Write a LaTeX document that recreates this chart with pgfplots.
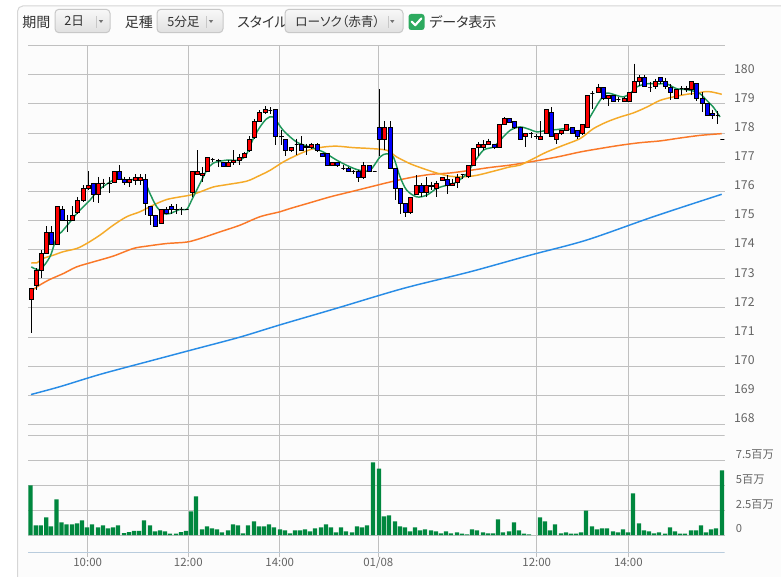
\documentclass[border=0pt]{standalone}
\usepackage{fontspec}
\setmainfont{Noto Sans CJK JP}
\newfontfamily\uifont[RawFeature=+palt]{Noto Sans CJK JP}
\usepackage{pgfplots}
\usepackage{pgfplotstable}
\pgfplotsset{compat=1.18}

\definecolor{gridc}{RGB}{192,192,192}
\definecolor{lbl}{RGB}{100,100,100}
\definecolor{txtdark}{RGB}{50,50,50}
\definecolor{candleup}{RGB}{255,0,0}
\definecolor{candledown}{RGB}{0,0,255}
\definecolor{magreen}{RGB}{30,150,90}
\definecolor{mayellow}{RGB}{245,170,40}
\definecolor{maorange}{RGB}{250,120,40}
\definecolor{mablue}{RGB}{40,140,230}
\definecolor{volgreen}{RGB}{0,135,62}
\definecolor{axisblue}{RGB}{185,204,221}
\definecolor{panelbg}{RGB}{252,252,252}
\definecolor{panelline}{RGB}{214,214,214}
\definecolor{btnline}{RGB}{200,200,200}
\definecolor{chkgreen}{RGB}{45,170,95}

% price axis: 292.5pt for 13.38 units
\def\ppu{21.861}
% candle: point sits at the close, body to the open, wick high-low
\pgfdeclareplotmark{candle}{%
  \pgfmathsetmacro\dHi{(\cHigh-\cClose)*\ppu}%
  \pgfmathsetmacro\dLo{(\cLow-\cClose)*\ppu}%
  \pgfmathsetmacro\dOp{(\cOpen-\cClose)*\ppu}%
  \pgfsetlinewidth{0.7pt}%
  \pgfsetstrokecolor{black}%
  \pgfpathmoveto{\pgfqpoint{0pt}{\dHi pt}}%
  \pgfpathlineto{\pgfqpoint{0pt}{\dLo pt}}%
  \pgfusepath{stroke}%
  \pgfmathparse{\cClose>=\cOpen}%
  \ifdim\pgfmathresult pt>0.5pt \pgfsetfillcolor{candleup}\else\pgfsetfillcolor{candledown}\fi
  \pgfsetlinewidth{0.6pt}%
  \pgfpathrectanglecorners{\pgfqpoint{-1.45pt}{0pt}}{\pgfqpoint{1.45pt}{\dOp pt}}%
  \pgfusepath{fill,stroke}%
}

% x = horizontal position on the chart, o h l c
\pgfplotstableread{
x o h l c
31.3 172.29 172.70 171.14 172.68
36.3 172.79 173.36 172.62 173.28
41.3 173.30 173.99 173.02 173.87
46.3 173.87 174.81 173.85 174.58
51.0 174.58 174.81 174.18 174.18
57.7 174.18 175.49 174.18 175.49
62.3 175.38 175.49 174.99 175.01
67.7 175.02 175.18 174.61 175.01
72.3 175.01 175.49 175.00 175.18
77.0 175.27 175.81 175.24 175.70
83.0 175.70 176.21 175.64 176.10
88.3 176.10 176.69 176.04 176.21
93.3 176.29 176.29 175.64 175.90
98.0 175.90 176.50 175.60 176.29
103.0 176.29 176.44 176.13 176.29
109.3 176.29 176.50 175.93 176.28
114.7 176.30 176.69 176.30 176.69
119.3 176.69 176.90 176.40 176.40
124.3 176.42 176.50 176.23 176.31
129.3 176.30 176.50 176.15 176.40
135.3 176.39 176.59 176.21 176.47
140.3 176.39 176.59 176.23 176.47
145.3 176.40 176.59 175.18 175.58
150.3 175.49 175.49 174.84 175.18
155.3 175.18 175.20 174.80 174.81
161.3 174.90 175.38 174.90 175.38
166.0 175.38 175.47 175.24 175.26
171.0 175.47 175.56 175.24 175.38
176.7 175.38 175.56 175.24 175.37
181.7 175.38 175.47 175.18 175.38
186.7 175.38 175.40 175.36 175.38
192.3 175.98 176.67 175.81 176.67
197.7 176.58 177.41 176.56 176.67
202.3 176.55 176.82 176.32 176.60
207.7 176.69 177.18 176.67 177.18
212.7 177.09 177.16 177.01 177.09
218.0 177.07 177.12 176.84 177.06
223.0 176.99 176.99 176.82 176.87
228.3 176.87 177.09 176.82 176.99
233.3 176.99 177.41 176.90 177.05
239.0 177.07 177.27 176.90 177.18
244.3 177.18 177.35 177.15 177.29
249.3 177.39 177.89 177.35 177.77
254.7 177.84 178.49 177.80 178.40
259.3 178.40 178.78 178.38 178.70
265.3 178.70 178.92 178.66 178.80
270.3 178.78 178.89 178.66 178.78
275.7 178.81 178.81 177.58 177.89
281.0 177.89 178.09 177.58 177.87
285.3 177.77 177.77 177.20 177.41
291.0 177.41 177.50 177.35 177.50
296.7 177.60 177.81 177.24 177.60
301.3 177.60 177.89 177.41 177.41
306.7 177.53 177.64 177.24 177.50
311.3 177.50 177.66 177.46 177.60
317.3 177.60 177.66 177.35 177.41
322.3 177.29 177.29 177.18 177.20
327.3 177.29 177.29 176.90 176.90
332.7 176.90 177.01 176.87 176.99
337.7 176.99 176.99 176.84 176.90
343.3 176.78 176.92 176.72 176.78
348.3 176.78 176.82 176.67 176.69
353.3 176.67 176.72 176.60 176.67
358.3 176.67 176.72 176.32 176.47
363.7 176.47 176.99 176.44 176.90
369.3 176.90 176.90 176.67 176.69
374.7 176.69 176.70 176.68 176.69
379.7 178.19 179.50 177.20 177.77
384.3 177.77 178.40 177.41 178.19
390.7 178.19 178.40 176.78 176.78
395.3 176.78 176.78 175.70 176.10
400.3 176.10 176.10 175.24 175.58
405.3 175.58 175.58 175.13 175.27
410.3 175.27 175.79 175.22 175.79
416.3 175.90 176.55 175.90 176.19
421.7 176.19 176.27 175.81 175.98
426.3 175.98 176.50 175.81 176.19
431.3 176.19 176.33 176.04 176.18
436.3 176.10 176.36 175.81 176.29
442.0 176.38 176.47 176.36 176.47
447.3 176.40 176.55 175.92 176.21
452.3 176.21 176.44 176.18 176.29
457.3 176.30 176.61 176.13 176.47
462.7 176.58 176.61 176.44 176.58
468.3 176.50 176.90 176.47 176.90
473.3 176.90 177.49 176.90 177.49
478.7 177.50 177.69 177.20 177.60
483.3 177.50 177.75 177.41 177.60
488.3 177.60 177.81 177.60 177.72
494.3 177.60 177.64 177.46 177.50
499.3 177.50 178.29 177.50 178.29
504.7 178.31 178.55 178.30 178.49
509.3 178.49 178.49 178.34 178.38
514.3 178.40 178.40 178.15 178.19
520.3 178.19 178.19 177.75 177.77
525.3 177.89 177.98 177.52 177.98
531.0 177.98 178.04 177.84 177.98
536.0 177.89 177.98 177.80 177.88
540.7 177.77 178.40 177.75 177.89
546.3 177.98 178.80 177.98 178.80
551.3 178.70 178.89 177.89 177.89
556.3 177.77 177.98 177.64 177.98
561.3 177.98 178.09 177.92 178.09
566.7 178.09 178.29 178.09 178.29
572.3 178.19 178.20 177.97 177.98
577.3 178.09 178.10 177.80 177.89
582.7 177.98 178.29 177.92 178.29
587.3 178.19 179.29 178.19 179.29
592.3 179.35 179.46 178.84 179.35
598.0 179.38 179.69 179.36 179.58
603.3 179.58 179.58 179.12 179.20
608.3 179.20 179.29 178.93 179.29
613.3 179.29 179.29 179.06 179.09
618.3 179.14 179.24 179.06 179.14
624.3 179.09 179.24 179.06 179.18
629.3 179.09 179.38 179.06 179.38
634.7 179.38 180.38 179.38 179.78
639.3 179.78 180.00 179.63 179.90
644.7 179.90 180.00 179.60 179.60
650.0 179.58 179.75 179.41 179.58
655.0 179.60 179.86 179.52 179.78
660.0 179.90 179.92 179.69 179.78
665.3 179.78 179.90 179.52 179.60
670.7 179.58 179.69 179.12 179.38
676.3 179.20 179.49 179.20 179.49
681.7 179.52 179.60 179.29 179.52
686.0 179.52 179.63 179.40 179.51
691.3 179.49 179.78 179.29 179.78
696.7 179.69 179.69 179.10 179.18
702.0 179.18 179.41 178.72 179.01
707.3 179.01 179.01 178.58 178.61
712.7 178.69 178.80 178.49 178.61
717.7 178.61 178.74 178.32 178.61
722.3 177.77 177.77 177.77 177.77
}\candles

% volume in millions
\pgfplotstableread{
x v
30.5 5.03
35.8 0.98
40.8 0.98
46.3 1.79
51.0 0.88
56.5 3.61
61.5 1.28
66.5 1.08
72.0 1.08
77.0 1.18
82.0 1.49
87.0 0.78
92.0 1.08
98.0 0.78
103.0 0.98
108.0 0.68
113.0 0.78
118.0 0.98
124.0 0.20
129.0 0.30
134.0 0.41
139.0 0.41
144.0 1.49
150.0 0.98
155.0 0.37
160.0 0.47
165.0 0.37
170.0 0.14
176.0 0.14
181.0 0.30
186.0 0.41
191.0 2.40
196.0 3.92
202.0 0.57
207.0 0.88
212.0 0.68
217.0 0.57
222.0 0.27
228.0 0.47
233.0 1.08
238.0 0.98
243.0 0.17
248.0 0.98
254.0 1.39
259.0 0.88
264.0 0.88
269.0 1.08
274.0 0.78
280.0 0.57
285.0 0.47
290.0 0.17
295.0 0.47
300.0 0.47
305.0 0.57
310.0 0.37
315.0 0.68
321.0 0.78
326.0 1.08
331.0 0.78
336.0 0.27
341.0 0.78
346.0 0.37
352.0 0.27
357.0 0.88
362.0 0.78
367.0 0.98
373.0 7.36
379.0 6.72
384.0 1.89
389.0 1.99
395.0 1.39
400.0 0.88
405.0 0.78
410.0 0.37
415.0 0.78
420.0 0.47
425.0 0.57
431.0 0.47
436.0 0.37
441.0 0.17
446.0 0.37
451.0 0.17
457.0 0.27
462.0 0.14
467.0 0.07
472.0 0.57
477.0 0.47
483.0 0.27
488.0 0.17
493.0 0.17
498.0 1.59
503.0 0.27
509.0 0.37
514.0 1.28
519.0 0.47
524.0 0.14
529.0 0.07
540.0 1.79
545.0 1.39
550.0 0.47
555.0 1.08
561.0 0.17
566.0 0.27
571.0 0.14
576.0 0.14
581.0 0.27
586.0 2.47
592.0 0.88
597.0 0.57
602.0 0.68
607.0 0.68
613.0 0.37
618.0 0.27
623.0 0.57
628.0 0.27
633.0 4.22
639.0 1.18
644.0 0.47
649.0 0.37
654.0 0.17
659.0 0.27
665.0 0.14
670.0 0.78
675.0 0.37
680.0 0.14
685.0 0.14
691.0 0.47
696.0 0.47
701.0 0.98
706.0 0.27
711.0 0.57
716.0 0.68
722.0 6.55
}\volumes

\begin{document}
\begin{tikzpicture}[x=0.75pt,y=0.75pt]
\fill[white] (0,0) rectangle (781,577);
\begin{scope}
\clip (0,0) rectangle (781,577);
\draw[panelline, fill=panelbg, rounded corners=4pt, line width=0.75pt] (17.5,-20) rectangle (800,571);
\end{scope}

% toolbar
\begin{scope}[every node/.style={inner sep=0pt, anchor=west, text=txtdark}]
\node[font=\uifont\fontsize{10.5}{12}\selectfont] at (22,555) {期間};
\node[font=\uifont\fontsize{10.5}{12}\selectfont] at (124.5,555) {足種};
\node[font=\uifont\fontsize{10.5}{12}\selectfont] at (237,555) {スタイル};
\node[font=\uifont\fontsize{10.5}{12}\selectfont] at (429,555) {データ表示};
\foreach \a/\b/\s in {55/110/96.7, 157/223/206.7, 285/403/388}{
  \draw[btnline, top color=white!97!black, bottom color=white!88!black, rounded corners=3pt, line width=0.75pt] (\a,544.3) rectangle (\b,567.7);
  \draw[btnline, line width=0.75pt] (\s,549) -- (\s,561);
  \fill[black!55] (\s+2.2,556.8) -- (\s+6.4,556.8) -- (\s+4.3,554) -- cycle;
}
\node[font=\uifont\fontsize{9.5}{11}\selectfont] at (64,555.5) {2日};
\node[font=\uifont\fontsize{9.5}{11}\selectfont] at (167,555.5) {5分足};
\node[font=\uifont\fontsize{9.5}{11}\selectfont] at (295,555.5) {ローソク（赤青）};
\end{scope}
\fill[chkgreen, rounded corners=2pt] (408.5,547) rectangle (424.5,563);
\draw[white, line width=1.6pt, line cap=round, line join=round] (411.7,555.3) -- (415.2,551.8) -- (421.3,558.5);

% volume panel
\begin{axis}[
  name=vol,
  at={(28,24.7)}, anchor=south west,
  scale only axis, width=522.4pt, height=87.75pt,
  xmin=28, xmax=724.5, ymin=-1.784, ymax=10.07,
  axis line style={draw=none},
  xtick={87.7,188.3,279.7,378.3,536.7,628.3},
  xticklabels={10:00,12:00,14:00,01/08,12:00,14:00},
  xtick pos=left, tick align=outside, major tick length=3.3pt,
  xtick style={draw=gridc, line width=0.75pt},
  xticklabel style={anchor=base, yshift=-7pt, font=\fontsize{8.6}{9}\selectfont, text=lbl},
  ytick={0,2.5,5,7.5},
  yticklabels={0,2.5百万,5百万,7.5百万},
  ytick style={draw=none},
  yticklabel pos=right,
  yticklabel style={anchor=base west, inner sep=0pt, xshift=5pt, yshift=1.7pt,
    font=\fontsize{8.4}{9}\selectfont, text=lbl},
  grid=major,
  major grid style={draw=gridc, line width=0.75pt},
]
\addplot[ybar, bar width=3.2pt, bar shift=0pt, fill=volgreen, draw=none] table[x=x, y=v] {\volumes};
\draw[axisblue, line width=0.75pt] (rel axis cs:0,0) -- (rel axis cs:1,0);
\end{axis}

% price panel
\begin{axis}[
  at={(vol.north west)}, anchor=south west,
  scale only axis, width=522.4pt, height=292.5pt,
  xmin=28, xmax=724.5, ymin=167.62, ymax=181,
  axis line style={draw=none},
  tick style={draw=none},
  xtick={87.7,188.3,279.7,378.3,536.7,628.3},
  xticklabels={},
  ytick={168,...,181},
  yticklabels={168,169,170,171,172,173,174,175,176,177,178,179,180,{}},
  yticklabel pos=right,
  yticklabel style={anchor=base west, inner sep=0pt, xshift=7pt, yshift=1.3pt,
    font=\fontsize{9.2}{10}\selectfont, text=lbl},
  grid=major,
  major grid style={draw=gridc, line width=0.75pt},
]
\draw[gridc, line width=0.75pt] (rel axis cs:0,0) -- (rel axis cs:1,0);
\addplot[only marks, mark=candle,
  visualization depends on={\thisrow{o} \as \cOpen},
  visualization depends on={\thisrow{h} \as \cHigh},
  visualization depends on={\thisrow{l} \as \cLow},
  visualization depends on={\thisrow{c} \as \cClose}]
  table[x=x, y=c] {\candles};
% moving averages
\addplot[no markers, smooth, line width=1.1pt, mablue] coordinates {
(31,169.03) (60,169.30) (100,169.72) (150,170.18) (195,170.59) (240,171.00)
(280,171.42) (336.7,171.99) (403.3,172.67) (470,173.24) (530,173.81)
(586.7,174.33) (653.3,175.13) (721.7,175.90)};
\addplot[no markers, smooth, line width=1.1pt, maorange] coordinates {
(31.3,172.59) (40,172.79) (50,172.98) (63.3,173.18) (76.7,173.41) (93.3,173.58)
(113.3,173.78) (133.3,174.04) (146.7,174.12) (166.7,174.21) (186.7,174.26)
(200,174.38) (220,174.61) (240,174.84) (260,175.13) (280,175.30) (290,175.41)
(310,175.61) (330,175.81) (350,175.98) (370,176.15) (390,176.32) (410,176.47)
(430,176.58) (450,176.63) (470,176.72) (490,176.82) (510,176.90) (530,177.01)
(540,177.07) (560,177.20) (580,177.35) (600,177.47) (620,177.58) (640,177.67)
(660,177.73) (680,177.83) (700,177.92) (721.7,177.98)};
\addplot[no markers, smooth, line width=1.1pt, mayellow] coordinates {
(31.3,173.55) (37,173.55) (43.3,173.70) (53.3,173.81) (63.3,173.93) (76.7,174.04)
(86.7,174.21) (100,174.50) (113.3,174.84) (126.7,175.13) (140,175.30)
(153.3,175.53) (166.7,175.72) (180,175.81) (190,175.87) (200,175.98)
(213.3,176.15) (226.7,176.23) (246.7,176.35) (260,176.55) (270,176.72)
(283.3,177.01) (296.7,177.24) (310,177.43) (323.3,177.52) (336.7,177.55)
(353.3,177.50) (370,177.47) (386.7,177.41) (396.7,177.18) (410,176.95)
(423.3,176.78) (436.7,176.63) (450,176.52) (463.3,176.50) (476.7,176.55)
(496.7,176.72) (510,176.84) (520,176.90) (533.3,177.12) (546.7,177.35)
(563.3,177.58) (580,177.81) (593.3,178.15) (606.7,178.38) (620,178.55)
(633.3,178.69) (646.7,178.89) (660,179.12) (673.3,179.24) (686.7,179.33)
(696.7,179.37) (705,179.42) (711.7,179.41) (721.7,179.33)};
\addplot[no markers, smooth, line width=1.1pt, magreen] coordinates {
(31.3,173.41) (40,173.32) (50,173.76) (56.7,174.44) (61.7,174.61) (70,174.95)
(76.7,175.24) (83.3,175.47) (90,175.70) (96.7,175.98) (105,176.21)
(116.7,176.44) (126.7,176.38) (140,176.44) (145,176.32) (150,175.92)
(156.7,175.47) (163.3,175.24) (170,175.24) (180,175.38) (186.7,175.38)
(191.7,175.70) (200,176.27) (206.7,176.72) (213.3,176.97) (226.7,177.07)
(240,177.07) (246.7,177.29) (253.3,177.81) (260,178.21) (266.7,178.49)
(273.3,178.55) (283.3,178.09) (296.7,177.69) (310,177.52) (323.3,177.35)
(336.7,177.07) (350,176.84) (360,176.72) (370,176.72) (380,177.18)
(386.7,177.29) (393.3,177.18) (400,176.50) (406.7,176.04) (416.7,175.81)
(426.7,175.87) (436.7,176.10) (446.7,176.21) (456.7,176.32) (466.7,176.61)
(473.3,176.95) (483.3,177.41) (493.3,177.52) (500,177.75) (510,178.09)
(520,178.21) (530,178.12) (536.7,178.04) (546.7,178.09) (556.7,178.12)
(566.7,178.15) (576.7,178.07) (583.3,178.15) (590,178.55) (600,179.12)
(606.7,179.37) (616.7,179.29) (623.3,179.24) (630,179.35) (636.7,179.58)
(646.7,179.69) (660,179.69) (666.7,179.69) (676.7,179.52) (686.7,179.49)
(693.3,179.44) (700,179.35) (706.7,179.12) (713.3,178.89) (720,178.55)};
\end{axis}
\pgfresetboundingbox
\path[use as bounding box] (0,0) rectangle (781,577);
\end{tikzpicture}
\end{document}
